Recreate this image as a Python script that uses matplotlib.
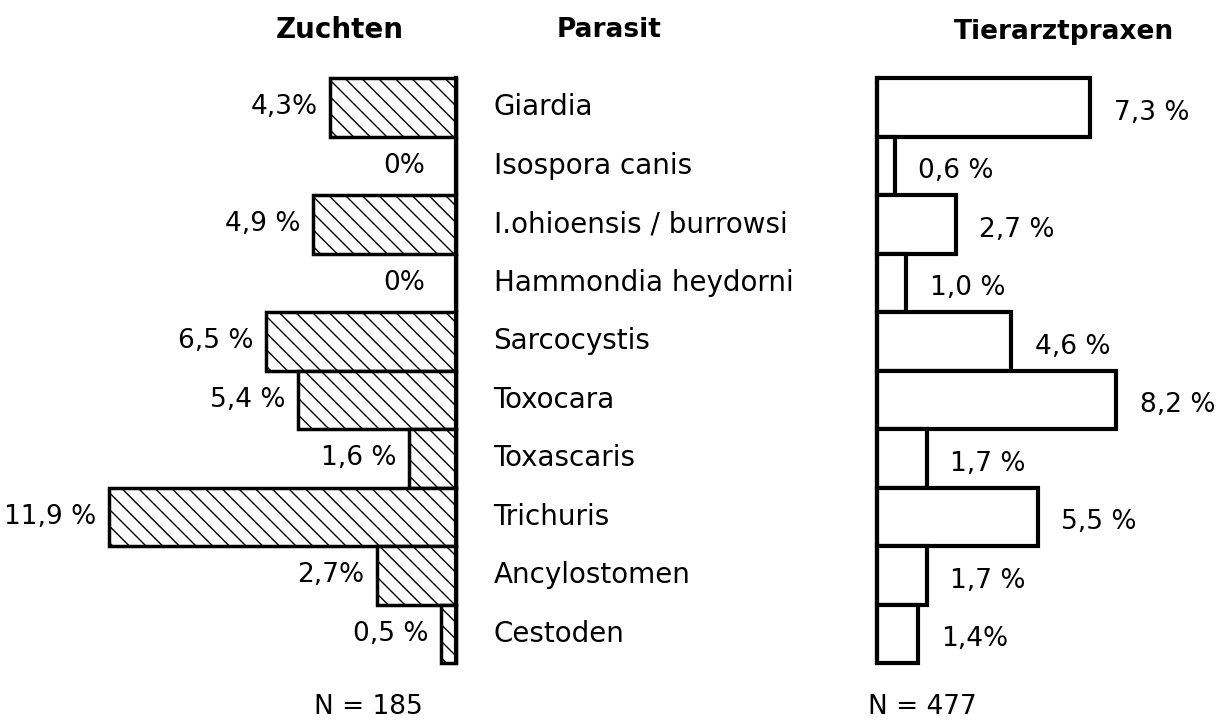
import matplotlib
matplotlib.use("Agg")
import matplotlib.pyplot as plt

plt.rcParams['font.family'] = ['DejaVu Sans']
plt.rcParams['hatch.linewidth'] = 1.0

parasites = ["Giardia", "Isospora canis", "I.ohioensis / burrowsi", "Hammondia heydorni",
             "Sarcocystis", "Toxocara", "Toxascaris", "Trichuris", "Ancylostomen", "Cestoden"]
zuchten = [4.3, 0.0, 4.9, 0.0, 6.5, 5.4, 1.6, 11.9, 2.7, 0.5]
zuchten_labels = ["4,3%", "0%", "4,9 %", "0%", "6,5 %", "5,4 %", "1,6 %", "11,9 %", "2,7%", "0,5 %"]
praxen = [7.3, 0.6, 2.7, 1.0, 4.6, 8.2, 1.7, 5.5, 1.7, 1.4]
praxen_labels = ["7,3 %", "0,6 %", "2,7 %", "1,0 %", "4,6 %", "8,2 %", "1,7 %", "5,5 %", "1,7 %", "1,4%"]
n_zuchten = "N = 185"
n_praxen = "N = 477"

W, H = 1223, 727
fig = plt.figure(figsize=(W / 100, H / 100), dpi=100)

y0, y1 = 78, 663
bottom = (H - y1) / H
height = (y1 - y0) / H
scale = 29.2  # px per percent

axL = fig.add_axes([60 / W, bottom, 396 / W, height])
axR = fig.add_axes([877 / W, bottom, 346 / W, height])

ypos = list(range(len(parasites)))

barsL = axL.barh(ypos, zuchten, height=1.0, color='white', edgecolor='black',
                 linewidth=2.5, hatch='\\\\', align='center')
axL.set_xlim(396 / scale, 0)
barsR = axR.barh(ypos, praxen, height=1.0, color='white', edgecolor='black',
                 linewidth=3.0, align='center')
axR.set_xlim(0, 346 / scale)
for b in list(barsL) + list(barsR):
    b.set_clip_on(False)

for ax in (axL, axR):
    ax.set_ylim(len(parasites) - 0.5, -0.5)
    ax.set_xticks([])
    ax.set_yticks([])
    for s in ax.spines.values():
        s.set_visible(False)
    ax.patch.set_alpha(0)

axL.spines['right'].set_visible(True)
axL.spines['right'].set_linewidth(3)
axR.spines['left'].set_visible(True)
axR.spines['left'].set_linewidth(3)

fs = 19
for y, v, lab in zip(ypos, zuchten, zuchten_labels):
    axL.annotate(lab, xy=(v, y), xytext=(-9 if v > 0 else -22, 0), textcoords='offset points',
                 ha='right', va='center', fontsize=fs, annotation_clip=False)
for y, v, lab in zip(ypos, praxen, praxen_labels):
    axR.annotate(lab, xy=(v, y), xytext=(17, -4), textcoords='offset points',
                 ha='left', va='center', fontsize=fs, annotation_clip=False)

for y, name in zip(ypos, parasites):
    axL.annotate(name, xy=(0, y), xytext=(27, 0), textcoords='offset points',
                 ha='left', va='center', fontsize=20, annotation_clip=False)

fig.text(340 / W, 1 - 30 / H, "Zuchten", ha='center', va='center', fontsize=20, fontweight='bold')
fig.text(609 / W, 1 - 30 / H, "Parasit", ha='center', va='center', fontsize=19, fontweight='bold')
fig.text(1064 / W, 1 - 32 / H, "Tierarztpraxen", ha='center', va='center', fontsize=19, fontweight='bold')
fig.text(368 / W, 1 - 707 / H, n_zuchten, ha='center', va='center', fontsize=fs)
fig.text(922 / W, 1 - 707 / H, n_praxen, ha='center', va='center', fontsize=fs)

fig.savefig("out.png", dpi=100, facecolor='white')
